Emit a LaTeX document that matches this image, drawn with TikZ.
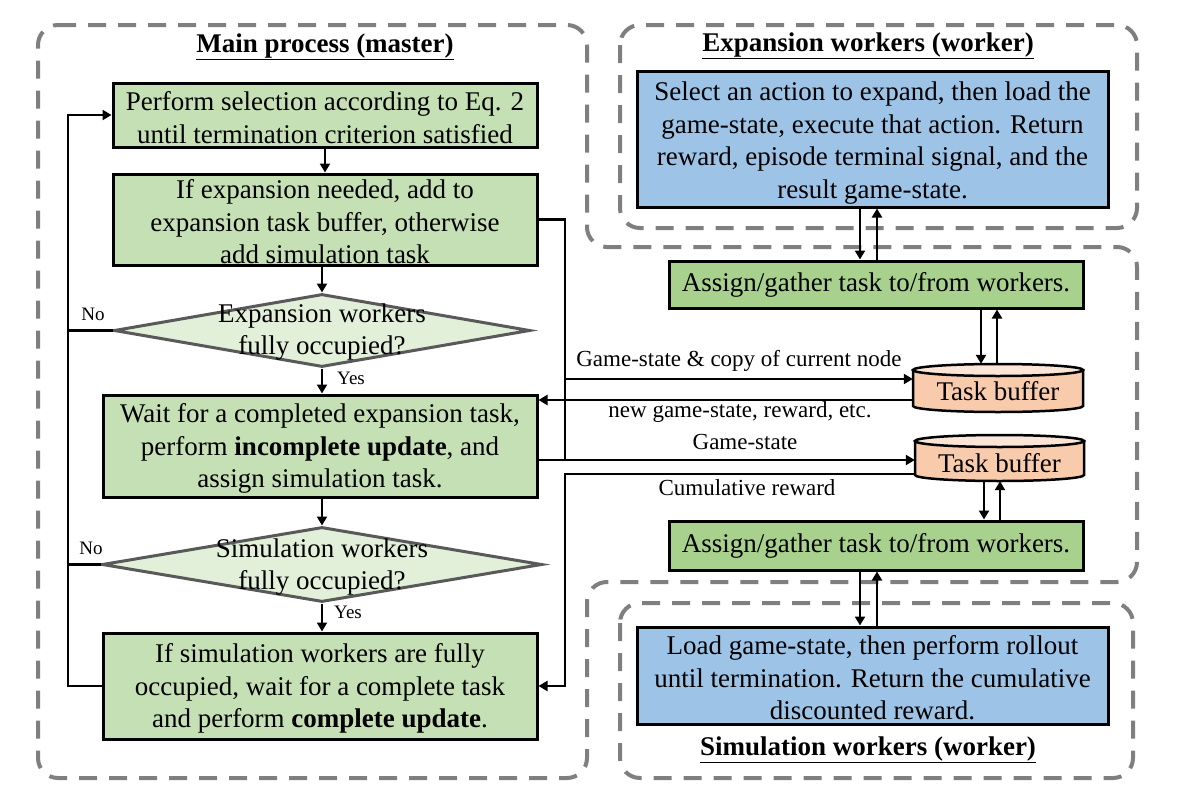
\documentclass[tikz,border=0pt]{standalone}
\usepackage{fontspec}
\setmainfont{Liberation Serif}
\usetikzlibrary{arrows.meta,shapes.geometric,calc}
\definecolor{flowgreen}{HTML}{C5E0B4}
\definecolor{assigngreen}{HTML}{A9D18E}
\definecolor{workblue}{HTML}{9DC3E6}
\definecolor{diafill}{HTML}{E2F0D9}
\definecolor{diaborder}{HTML}{595959}
\definecolor{tbfill}{HTML}{F8CBAD}
\definecolor{tbtop}{HTML}{FBE5D6}
\definecolor{dashgray}{HTML}{7F7F7F}
\newcommand\tstrA{\rule{0pt}{24pt}}
\newcommand\tstrB{\rule{0pt}{27pt}}
\begin{document}
\begin{tikzpicture}[x=1pt,y=-1pt,
  region/.style={draw=dashgray,line width=4pt,dash pattern=on 18pt off 12pt,rounded corners=20pt},
  bigfont/.style={font=\fontsize{27}{32.5}\selectfont},
  flowbox/.style={rectangle,draw=black,line width=3pt,fill=flowgreen,inner sep=0pt,align=center,bigfont},
  assignbox/.style={flowbox,fill=assigngreen},
  workbox/.style={flowbox,fill=workblue},
  decision/.style={diamond,draw=diaborder,line width=3pt,fill=diafill,inner sep=0pt},
  dtext/.style={align=center,bigfont,inner sep=0pt},
  titletext/.style={font=\fontsize{27}{32.5}\selectfont\bfseries,inner sep=0pt},
  lbl/.style={font=\fontsize{23}{27}\selectfont,inner sep=0pt},
  yn/.style={font=\fontsize{19}{22}\selectfont,inner sep=0pt},
  conn/.style={line width=2.7pt},
  arr/.style={conn,-{Triangle[length=9pt,width=10pt]}},
  buffer/.style={rectangle,inner sep=0pt,bigfont},
  cylbody/.style={draw=black,line width=2.5pt,fill=tbfill},
  cyltop/.style={draw=black,line width=2.5pt,fill=tbtop}
]
\useasboundingbox (0,0) rectangle (1181,803);

% dashed regions
\draw[region] (38,25) -- (587,25) -- (587,247) -- (1137,247) -- (1137,582) -- (587,582) -- (587,778) -- (38,778) -- cycle;
\draw[region] (620,25) rectangle (1137,228);
\draw[region] (620,603) rectangle (1133,778);

% titles
\node[titletext] (tmain) at (325,47) {\underline{Main process (master)}};
\node[titletext] (texp) at (868,46) {\underline{Expansion workers (worker)}};
\node[titletext] (tsim) at (868,750) {\underline{Simulation workers (worker)}};

% main flow
\node[flowbox,minimum width=424pt,minimum height=64pt] (b1) at (325,115) {\tstrA Perform selection according to Eq. 2\\until termination criterion satisfied};
\node[flowbox,minimum width=424pt,minimum height=91pt] (b2) at (325,219.5) {\tstrA If expansion needed, add to\\expansion task buffer, otherwise\\add simulation task};
\node[decision,minimum width=416pt,minimum height=73pt] (d1) at (322,330.5) {};
\node[dtext] (d1t) at (322,332) {Expansion workers\\fully occupied?};
\node[flowbox,minimum width=434pt,minimum height=102pt] (b3) at (320,446) {\tstrA Wait for a completed expansion task,\\perform \textbf{incomplete update}, and\\assign simulation task.};
\node[decision,minimum width=440pt,minimum height=75pt] (d2) at (322,564.5) {};
\node[dtext] (d2t) at (322,567) {Simulation workers\\fully occupied?};
\node[flowbox,minimum width=434pt,minimum height=106pt] (b4) at (320,686) {\tstrA If simulation workers are fully\\occupied, wait for a complete task\\and perform \textbf{complete update}.};

\node[yn] (no1) at (93,314) {No};
\node[yn] (no2) at (91,548) {No};
\node[yn,anchor=west] (yes1) at (337,378) {Yes};
\node[yn,anchor=west] (yes2) at (334,612) {Yes};

% workers
\node[workbox,minimum width=471pt,minimum height=136pt] (exp) at (872.5,139) {\tstrB Select an action to expand, then load the\\game-state, execute that action. Return\\reward, episode terminal signal, and the\\result game-state.};
\node[workbox,minimum width=471pt,minimum height=97pt] (sim) at (872.5,675.5) {\tstrA Load game-state, then perform rollout\\until termination. Return the cumulative\\discounted reward.};
\node[assignbox,minimum width=414pt,minimum height=47pt] (as1) at (876,284.5) {Assign/gather task to/from workers.};
\node[assignbox,minimum width=414pt,minimum height=49pt] (as2) at (876,545.5) {Assign/gather task to/from workers.};

% task buffers (cylinders)
\draw[cylbody] (913,370) -- (913,406) arc[start angle=180,end angle=0,x radius=85,y radius=6] -- (1083,370) -- cycle;
\draw[cyltop] (998,370) ellipse[x radius=85,y radius=6];
\node[buffer,minimum width=170pt,minimum height=48pt] (tb1) at (998,388) {};
\node[buffer] (tb1t) at (998,391) {Task buffer};
\draw[cylbody] (915,441) -- (915,475) arc[start angle=180,end angle=0,x radius=84.5,y radius=6] -- (1084,441) -- cycle;
\draw[cyltop] (999.5,441) ellipse[x radius=84.5,y radius=6];
\node[buffer,minimum width=169pt,minimum height=46pt] (tb2) at (999.5,458) {};
\node[buffer] (tb2t) at (999.5,463) {Task buffer};

% helper coordinates
\coordinate (loopx) at (68,0);
\coordinate (midx) at (565,0);
\coordinate (ygc) at (0,379);
\coordinate (yret) at (0,400);
\coordinate (ygs) at (0,460);
\coordinate (ycum) at (0,474);
\coordinate (xa) at (860,0);
\coordinate (xb) at (877,0);
\coordinate (xc) at (981,0);
\coordinate (xd) at (997,0);
\coordinate (xe) at (984,0);
\coordinate (xf) at (1000,0);

% main flow arrows
\draw[arr] (b1.south) -- (b2.north);
\draw[arr] (b2.south -| d1.north) -- (d1.north);
\draw[arr] (d1.south) -- (d1.south |- b3.north);
\draw[arr] (b3.south -| d2.north) -- (d2.north);
\draw[arr] (d2.south) -- (d2.south |- b4.north);

% loop back
\draw[arr] (b4.west) -- (b4.west -| loopx) -- (loopx |- b1.west) -- (b1.west);
\draw[conn] (d1.west) -- (d1.west -| loopx);
\draw[conn] (d2.west) -- (d2.west -| loopx);

% master <-> buffers
\draw[conn] (b2.east) -- (b2.east -| midx) -- (midx |- ygs);
\draw[arr] (midx |- ygc) -- (tb1.west |- ygc) node[lbl,midway,above=6pt] (lgc) {Game-state \& copy of current node};
\draw[arr] (tb1.west |- yret) -- (b3.east |- yret);
\node[lbl] (lret) at (740,412) {new game-state, reward, etc.};
\draw[arr] (b3.east |- ygs) -- (tb2.west |- ygs);
\node[lbl] (lgs) at (745,442) {Game-state};
\draw[arr] (tb2.west |- ycum) -- (midx |- ycum) -- (midx |- b4.east) -- (b4.east);
\node[lbl] (lcum) at (747,488) {Cumulative reward};

% worker links
\draw[arr] (exp.south -| xa) -- (as1.north -| xa);
\draw[arr] (as1.north -| xb) -- (exp.south -| xb);
\draw[arr] (as1.south -| xc) -- (tb1.north -| xc);
\draw[arr] (tb1.north -| xd) -- (as1.south -| xd);
\draw[arr] (tb2.south -| xe) -- (as2.north -| xe);
\draw[arr] (as2.north -| xf) -- (tb2.south -| xf);
\draw[arr] (as2.south -| xa) -- (sim.north -| xa);
\draw[arr] (sim.north -| xb) -- (as2.south -| xb);
\end{tikzpicture}
\end{document}
